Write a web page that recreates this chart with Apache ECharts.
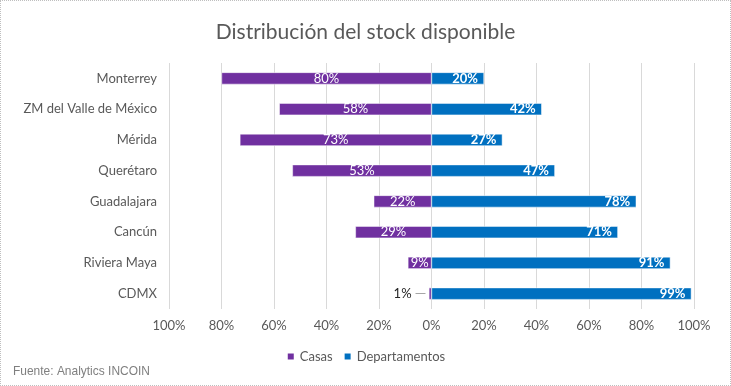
<!DOCTYPE html>
<html><head><meta charset="utf-8">
<script src="https://cdn.jsdelivr.net/npm/echarts@6/dist/echarts.min.js"></script>
<style>
html,body{margin:0;padding:0;background:#fff;}
#c{width:729px;height:384px;border:1px dotted #bfbfbf;}
</style></head><body>
<div id="c"></div>
<script>
const categories = ["Monterrey","ZM del Valle de México","Mérida","Querétaro","Guadalajara","Cancún","Riviera Maya","CDMX"];
const casas = [80,58,73,53,22,29,9,1];
const departamentos = [20,42,27,47,78,71,91,99];
const seriesNames = ["Casas","Departamentos"];
const titleText = "Distribución del stock disponible";
const sourceText = "Fuente: Analytics INCOIN";

const font = "Lato, 'Open Sans', sans-serif";
const chart = echarts.init(document.getElementById('c'));
const casasData = casas.map((v,i)=>{
  const d = {value:-v};
  if (v < 5) {
    d.label = {position:'left', distance:3, formatter:'{a|'+v+'%} {b|—}', color:'#404040',
      rich:{a:{color:'#262626',fontSize:13,fontFamily:font},b:{color:'#8c8c8c',fontSize:11,fontFamily:"'DejaVu Sans', sans-serif"}}};
  }
  return d;
});
chart.setOption({
  animation:false,
  title:{text:titleText,left:'center',top:16,textStyle:{fontFamily:font,fontSize:21,fontWeight:'normal',color:'#595959'}},
  graphic:[{type:'text',left:12,top:364,scaleX:0.92,style:{text:sourceText,fontFamily:"'Liberation Sans', Arial, sans-serif",fontSize:13,fill:'#7f7f7f'}}],
  legend:{data:seriesNames,bottom:17,left:'center',icon:'rect',itemWidth:8,itemHeight:8,itemGap:10,
    textStyle:{fontFamily:font,fontSize:13,color:'#595959'}},
  grid:{left:168,right:36,top:62,bottom:76,containLabel:false},
  xAxis:{type:'value',min:-100,max:100,interval:20,
    axisLine:{show:false},axisTick:{show:false},
    splitLine:{show:true,lineStyle:{color:'#d9d9d9',width:1}},
    axisLabel:{formatter:v=>Math.abs(v)+'%',fontFamily:font,fontSize:13,color:'#595959',margin:10}},
  yAxis:{type:'category',data:categories,inverse:true,
    axisLine:{show:false},axisTick:{show:false},
    axisLabel:{fontFamily:font,fontSize:13,color:'#595959',margin:12}},
  series:[
    {name:seriesNames[0],type:'bar',stack:'s',barWidth:12,data:casasData,
     itemStyle:{color:'#7030A0',borderColor:'#ffffff',borderWidth:0.5},
     label:{show:true,position:'inside',formatter:p=>Math.abs(p.value)+'%',color:'#ffffff',fontFamily:font,fontSize:13}},
    {name:seriesNames[1],type:'bar',stack:'s',barWidth:12,data:departamentos,
     itemStyle:{color:'#0070C0',borderColor:'#ffffff',borderWidth:0.5},
     label:{show:true,position:'insideRight',distance:6,formatter:p=>p.value+'%',color:'#ffffff',fontFamily:font,fontSize:13,fontWeight:'bold'}}
  ]
});
</script></body></html>
